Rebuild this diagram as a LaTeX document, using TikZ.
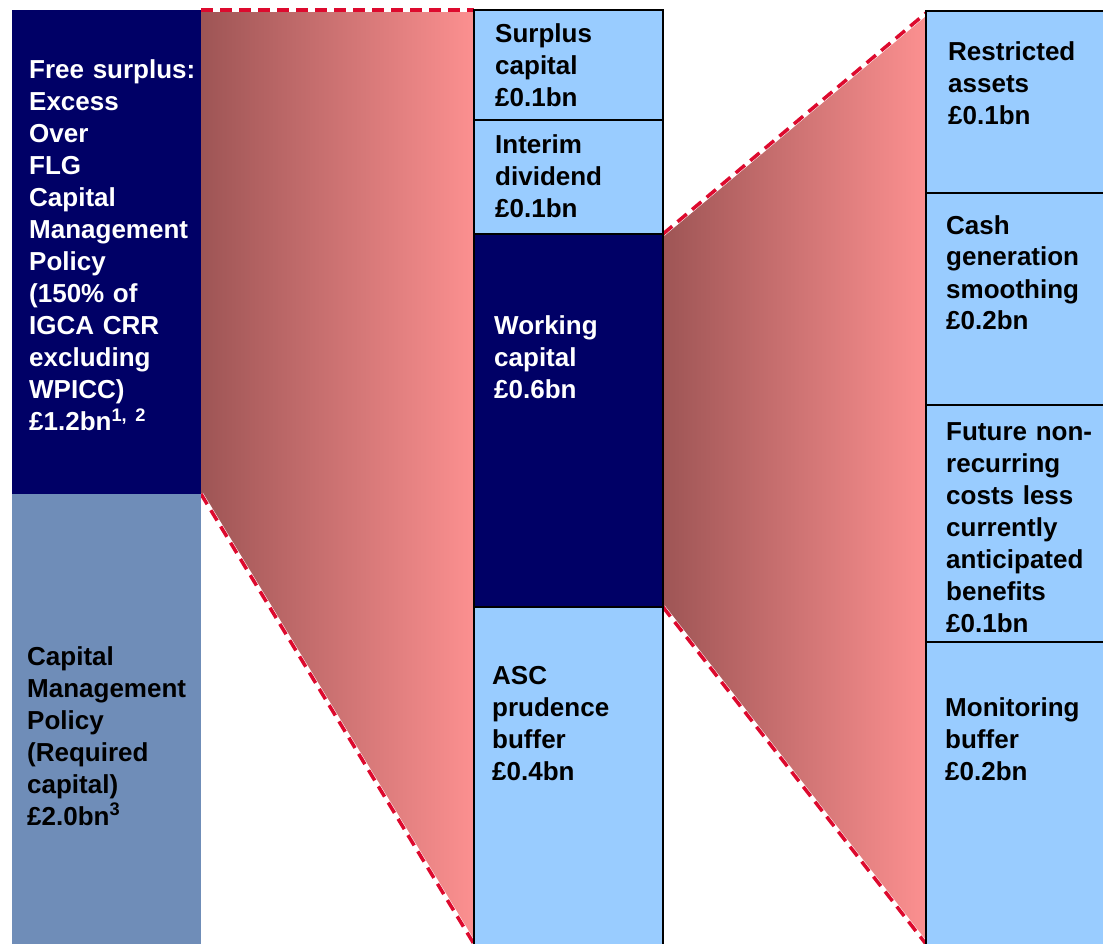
\documentclass[tikz,border=0pt]{standalone}
\usepackage{fontspec}
\setmainfont{Liberation Sans}
\definecolor{navy}{HTML}{000066}
\definecolor{slate}{HTML}{6F8DB8}
\definecolor{lightblue}{HTML}{99CCFF}
\definecolor{funneldark}{HTML}{9E5555}
\definecolor{funnellight}{HTML}{FC9090}
\definecolor{dashred}{HTML}{DD0A2E}
\tikzset{
  boxcell/.style={draw=black, line width=2pt},
  lbl/.style={anchor=base west, inner sep=0pt, text width=190pt, align=left,
    font=\bfseries\fontsize{26}{32}\selectfont},
  funnelline/.style={draw=dashred, line width=3.5pt, dash pattern=on 12pt off 7pt,
    preaction={draw=white, line width=4.5pt, solid}},
}
\begin{document}
\begin{tikzpicture}[x=1pt,y=-1pt]
\useasboundingbox (0,0) rectangle (1103,944);
\clip (0,0) rectangle (1103,944);
% key coordinates
\coordinate (f1tl) at (201,10);
\coordinate (f1tr) at (474,10);
\coordinate (f1br) at (474,944);
\coordinate (f1bl) at (201,494);
\coordinate (f2tl) at (663,234);
\coordinate (f2tr) at (926,13);
\coordinate (f2br) at (926,944);
\coordinate (f2bl) at (663,607);
% funnels
\shade[left color=funneldark, right color=funnellight] (f1tl) -- (f1tr) -- (f1br) -- (f1bl) -- cycle;
\shade[left color=funneldark, right color=funnellight] (f2tl) -- (f2tr) -- (f2br) -- (f2bl) -- cycle;
\draw[funnelline] (f1tl) -- (f1tr);
\draw[funnelline] (f1bl) -- (f1br);
\draw[funnelline] (f2tl) -- (f2tr);
\draw[funnelline] (f2bl) -- (f2br);
% left column
\fill[navy] (12,10) rectangle (201,494);
\fill[slate] (12,494) rectangle (201,960);
% middle column
\filldraw[boxcell, fill=lightblue] (474,10) rectangle (663,120);
\filldraw[boxcell, fill=lightblue] (474,120) rectangle (663,234);
\filldraw[boxcell, fill=navy] (474,234) rectangle (663,607);
\filldraw[boxcell, fill=lightblue] (474,607) rectangle (663,960);
% right column
\filldraw[boxcell, fill=lightblue] (926,11) rectangle (1115,193);
\filldraw[boxcell, fill=lightblue] (926,193) rectangle (1115,405);
\filldraw[boxcell, fill=lightblue] (926,405) rectangle (1115,642);
\filldraw[boxcell, fill=lightblue] (926,642) rectangle (1115,960);
% labels
\node[lbl, text=white] (free) at (29,79) {Free surplus:\\Excess\\Over\\FLG\\Capital\\Management\\Policy\\(150\% of\\IGCA CRR\\excluding\\WPICC)\\£1.2bn\textsuperscript{1, 2}};
\node[lbl] (req) at (27,665) {Capital\\Management\\Policy\\(Required\\capital)\\£2.0bn\textsuperscript{3}};
\node[lbl] (surplus) at (495,43) {Surplus\\capital\\£0.1bn};
\node[lbl] (interim) at (495,154) {Interim\\dividend\\£0.1bn};
\node[lbl, text=white] (working) at (494,334) {Working\\capital\\£0.6bn};
\node[lbl] (asc) at (492,684) {ASC\\prudence\\buffer\\£0.4bn};
\node[lbl] (restricted) at (948,61) {Restricted\\assets\\£0.1bn};
\node[lbl] (cash) at (946,234) {Cash\\generation\\smoothing\\£0.2bn};
\node[lbl] (future) at (946,440) {Future non-\\recurring\\costs less\\currently\\anticipated\\benefits\\£0.1bn};
\node[lbl] (monitor) at (945,716) {Monitoring\\buffer\\£0.2bn};
\end{tikzpicture}
\end{document}
